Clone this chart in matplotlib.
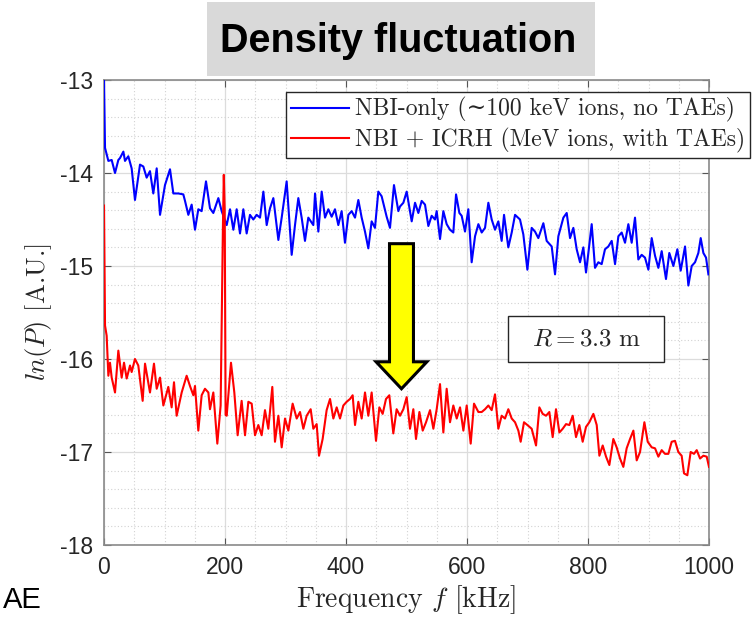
import matplotlib
matplotlib.use('Agg')
import matplotlib.pyplot as plt
from matplotlib.patches import Rectangle, Polygon
from matplotlib.ticker import MultipleLocator, FixedLocator
from matplotlib.font_manager import FontProperties

plt.rcParams['mathtext.fontset'] = 'cm'
plt.rcParams['axes.unicode_minus'] = False

# ---------------- data ----------------
blue_freq = [0, 1.7, 7.2, 12.7, 18.2, 23.7, 26.4, 32.0, 34.7, 40.2, 45.7, 51.2, 59.5, 65.0, 70.5,
             76.0, 81.5, 87.1, 92.6, 100.8, 109.1, 114.6, 122.9, 131.1, 133.9, 139.4, 144.9,
             150.4, 155.9, 161.4, 168.6, 175.2, 180.7, 189.0, 194.5, 202.8, 208.3, 213.8, 219.3,
             224.8, 230.3, 235.8, 241.3, 246.8, 252.3, 257.9, 263.4, 268.9, 274.4, 279.9, 288.2,
             293.7, 301.9, 310.2, 315.7, 321.2, 326.7, 332.2, 337.7, 346.0, 348.8, 354.3, 359.8,
             365.3, 370.8, 376.3, 381.8, 387.3, 392.8, 398.3, 403.9, 409.4, 414.9, 420.4, 425.9,
             431.4, 436.9, 442.4, 447.9, 453.4, 458.9, 467.2, 472.7, 479.3, 486.5,
             489.3, 494.8, 500.3, 508.6, 514.1, 519.6, 525.1, 530.6, 536.1, 541.6, 547.1, 549.9,
             555.4, 560.9, 566.4, 571.9, 577.4, 581.9, 587.4, 591.2, 596.7, 602.2, 607.7, 613.3,
             618.8, 624.3, 629.8, 635.3, 640.8, 646.3, 651.8, 657.3, 661.2, 668.3, 673.9, 679.4,
             687.6, 693.1, 699.8, 706.9, 712.4, 717.9, 726.2, 731.7, 737.2, 740.0, 745.5, 751.0,
             759.3, 764.8, 770.3, 775.8, 781.3, 786.8, 792.3, 796.7, 800.6, 806.1, 811.6, 817.1,
             822.6, 828.1, 833.6, 839.2, 844.7, 850.2, 855.7, 861.2, 866.7, 872.2, 877.7, 883.2,
             888.7, 894.2, 899.8, 905.3, 910.8, 916.3, 921.8, 928.9, 934.4, 941.1, 947.7, 953.2,
             960.4, 965.9, 971.4, 976.9, 982.4, 986.3, 990.7, 995.1, 999.0]
blue_val = [-13.0, -13.73, -13.87, -13.86, -14.00, -13.86, -13.84, -13.77, -13.87, -13.82, -13.95,
            -14.29, -13.91, -13.93, -14.05, -13.98, -14.22, -13.95, -14.45, -14.13, -13.96, -14.22,
            -14.22, -14.23, -14.30, -14.45, -14.34, -14.61, -14.39, -14.41, -14.09, -14.38, -14.43,
            -14.27, -14.41, -14.56, -14.39, -14.61, -14.39, -14.65, -14.39, -14.65, -14.45, -14.50,
            -14.45, -14.48, -14.20, -14.56, -14.38, -14.27, -14.72, -14.48, -14.09, -14.88, -14.56,
            -14.27, -14.48, -14.73, -14.48, -14.56, -14.22, -14.63, -14.20, -14.48, -14.39, -14.47,
            -14.39, -14.56, -14.41, -14.75, -14.45, -14.41, -14.48, -14.29, -14.48, -14.63, -14.81,
            -14.52, -14.59, -14.20, -14.25, -14.47, -14.59, -14.13, -14.41,
            -14.36, -14.32, -14.20, -14.52, -14.32, -14.43, -14.30, -14.34, -14.57, -14.46, -14.50,
            -14.41, -14.71, -14.41, -14.55, -14.61, -14.64, -14.23, -14.43, -14.46, -14.63, -14.39,
            -14.96, -14.68, -14.55, -14.64, -14.59, -14.32, -14.50, -14.61, -14.52, -14.73, -14.45,
            -14.80, -14.64, -14.45, -14.50, -14.66, -15.04, -14.59, -14.63, -14.70, -14.54, -14.73,
            -14.77, -14.79, -15.09, -14.68, -14.48, -14.43, -14.70, -14.59, -14.82, -14.96, -14.80,
            -15.07, -14.86, -14.55, -15.02, -14.96, -14.98, -14.82, -14.79, -14.73, -14.98, -14.68,
            -14.64, -14.75, -14.55, -14.75, -14.48, -14.93, -14.88, -14.91, -15.04, -14.70, -14.89,
            -15.02, -14.84, -15.14, -14.86, -15.00, -14.82, -15.05, -14.79, -15.21, -15.00, -14.96,
            -14.86, -14.70, -14.86, -14.91, -15.09]

red_freq = [0, 1.7, 4.4, 7.2, 9.9, 12.7, 18.2, 23.7, 29.2, 33.1, 37.5, 43.0, 45.7, 51.2, 56.7,
            63.9, 67.8, 76.0, 82.6, 87.1, 92.6, 98.1, 106.3, 111.8, 115.7, 120.1, 128.4, 136.6,
            142.1, 147.7, 150.4, 155.9, 161.4, 166.9, 172.5, 175.2, 180.7, 187.3, 192.8, 196.5,
            198.0, 199.5, 201.0, 202.8, 209.9, 215.4, 220.9, 227.5, 233.1, 238.6, 244.1, 249.6,
            255.1, 260.6, 266.1, 271.6, 278.2, 282.6, 288.2, 293.7, 299.2, 304.7, 311.8, 318.5,
            324.0, 329.5, 335.0, 341.6, 346.0, 351.5, 355.4, 361.4, 368.0, 373.6, 379.1, 384.6,
            390.1, 395.6, 401.1, 406.6, 411.0, 414.9, 420.4, 425.9, 431.4, 436.9, 442.4, 449.6,
            455.1, 460.6, 466.1, 471.6, 478.2, 483.7,
            489.3, 494.8, 500.3, 505.8, 511.3, 515.7, 521.3, 526.8, 532.3, 538.9, 544.4, 549.9,
            555.4, 560.9, 566.4, 571.9, 577.4, 583.0, 588.5, 594.0, 599.5, 606.1, 611.6, 618.8,
            624.3, 629.8, 635.3, 640.8, 646.3, 651.8, 657.3, 662.8, 668.3, 673.9, 679.4, 684.9,
            688.7, 694.2, 699.8, 706.9, 714.1, 719.6, 725.1, 730.6, 736.1, 741.6, 747.1, 752.7,
            758.2, 763.7, 769.2, 774.7, 780.2, 785.7, 791.2, 796.7, 802.2, 808.9, 814.4, 818.8,
            824.3, 829.8, 835.3, 841.9, 847.4, 852.9, 858.4, 863.9, 869.5, 875.0, 880.5, 886.0,
            893.2, 898.7, 905.3, 910.8, 916.3, 921.8, 927.3, 932.8, 938.3, 943.8, 949.3, 954.8,
            958.7, 964.2, 969.7, 975.2, 979.7, 985.2, 990.7, 996.2, 1000.0]
red_val = [-14.35, -15.64, -15.75, -16.18, -16.04, -16.20, -16.36, -15.91, -16.20, -16.04, -16.21,
           -16.07, -16.14, -16.00, -16.07, -16.45, -16.05, -16.36, -16.05, -16.32, -16.20, -16.50,
           -16.30, -16.52, -16.25, -16.61, -16.36, -16.18, -16.29, -16.39, -16.29, -16.77, -16.39,
           -16.32, -16.36, -16.54, -16.36, -16.91, -16.50, -14.60, -14.02, -14.40, -16.60, -16.61,
           -16.04, -16.36, -16.82, -16.45, -16.82, -16.46, -16.48, -16.82, -16.71, -16.82, -16.55,
           -16.75, -16.30, -16.89, -16.61, -16.95, -16.64, -16.77, -16.48, -16.64, -16.57, -16.75,
           -16.61, -16.54, -16.75, -16.70, -17.04, -16.86, -16.55, -16.43, -16.64, -16.52, -16.64,
           -16.50, -16.46, -16.43, -16.39, -16.71, -16.46, -16.64, -16.36, -16.61, -16.36, -16.88,
           -16.52, -16.59, -16.43, -16.39, -16.80, -16.54,
           -16.61, -16.54, -16.41, -16.75, -16.54, -16.86, -16.57, -16.77, -16.68, -16.55, -16.75,
           -16.54, -16.27, -16.79, -16.32, -16.68, -16.50, -16.64, -16.52, -16.77, -16.50, -16.91,
           -16.48, -16.57, -16.57, -16.54, -16.50, -16.55, -16.38, -16.75, -16.61, -16.64, -16.54,
           -16.64, -16.68, -16.77, -16.89, -16.68, -16.71, -16.75, -16.93, -16.52, -16.59, -16.61,
           -16.57, -16.84, -16.54, -16.79, -16.75, -16.70, -16.71, -16.61, -16.84, -16.71, -16.89,
           -16.73, -16.68, -16.59, -16.71, -17.04, -16.93, -17.05, -17.14, -16.86, -16.95, -17.07,
           -17.16, -16.96, -16.86, -16.77, -17.09, -17.00, -16.68, -16.89, -16.95, -16.96, -17.05,
           -16.98, -17.02, -17.02, -16.89, -16.88, -17.00, -17.04, -17.23, -17.25, -17.00, -17.02,
           -16.98, -17.07, -17.04, -17.05, -17.16]

x_ticks = [0, 200, 400, 600, 800, 1000]
y_ticks = [-18, -17, -16, -15, -14, -13]
series_labels = ['NBI-only (\u223c100 keV ions, no TAEs)',
                 'NBI + ICRH (MeV ions, with TAEs)']
title_text = 'Density fluctuation'
box_text = r'$R = 3.3\ \mathrm{m}$'
x_label = r'Frequency $f$ [kHz]'
y_label = r'$ln(P)$ [A.U.]'
corner_text = 'AE'

# ---------------- figure ----------------
W, H = 752, 617
fig = plt.figure(figsize=(W / 100, H / 100), dpi=100)
ax = fig.add_axes([104 / W, 1 - 545 / H, 605 / W, 465 / H])

ax.plot(blue_freq, blue_val, color='#0000ff', lw=1.5, label=series_labels[0], zorder=3)
ax.plot(red_freq, red_val, color='#ff0000', lw=1.5, label=series_labels[1], zorder=3)

ax.set_xlim(0, 1000)
ax.set_ylim(-18, -13)
ax.xaxis.set_major_locator(FixedLocator(x_ticks))
ax.yaxis.set_major_locator(FixedLocator(y_ticks))
ax.xaxis.set_minor_locator(MultipleLocator(50))
ax.yaxis.set_minor_locator(MultipleLocator(0.2))
ax.set_xticklabels([str(v) for v in x_ticks])
ax.set_yticklabels([str(v) for v in y_ticks])

ax.set_axisbelow(True)
ax.grid(which='major', color='#dcdcdc', lw=0.9, ls='-')
ax.grid(which='minor', color='#d2d2d2', lw=0.8, ls=(0, (1, 2)))
ax.tick_params(which='major', direction='in', length=5, width=0.8, color='#555555',
               top=True, right=True, labelsize=16.5, labelcolor='#262626', pad=8)
ax.tick_params(which='minor', length=0)
for lab in ax.get_xticklabels() + ax.get_yticklabels():
    lab.set_family('Liberation Sans')
for s in ax.spines.values():
    s.set_color('#8a8a8a')
    s.set_linewidth(1.2)

ax.set_xlabel(x_label, family='cmr10', fontsize=20, color='#262626', va='top')
ax.xaxis.set_label_coords(0.5, -0.083)
ax.set_ylabel(y_label, family='cmr10', fontsize=19, color='#262626')
ax.yaxis.set_label_coords(-0.083, 0.5)

leg = ax.legend(loc='upper right', bbox_to_anchor=(1.068, 0.974), borderaxespad=0,
                prop=FontProperties(family=['cmr10', 'DejaVu Serif'], size=17),
                fancybox=False, framealpha=1, edgecolor='#262626', handlelength=2.45,
                handletextpad=0.25, borderpad=0.22, labelspacing=0.22)
leg.get_frame().set_linewidth(1.0)
for t in leg.get_texts():
    t.set_color('#262626')
leg.set_zorder(5)

# yellow arrow
cx, hs, hh = 491.7, 19.8, 42.0
y_top, y_base, y_tip = -14.76, -16.03, -16.32
arrow = Polygon([(cx - hs, y_top), (cx + hs, y_top), (cx + hs, y_base), (cx + hh, y_base),
                 (cx, y_tip), (cx - hh, y_base), (cx - hs, y_base)], closed=True,
                facecolor='#ffff00', edgecolor='black', lw=2.2, joinstyle='miter', zorder=6)
ax.add_patch(arrow)

# R box
ax.add_patch(Rectangle((0.668, 0.3935), 0.258, 0.099, transform=ax.transAxes,
                       facecolor='white', edgecolor='#262626', lw=1.0, zorder=6))
ax.text(0.797, 0.443, box_text, transform=ax.transAxes, ha='center', va='center',
        fontsize=18, color='#262626', family='cmr10', zorder=7)

# title box
fig.patches.append(Rectangle((207 / W, 1 - 76 / H), 388 / W, 74 / H, transform=fig.transFigure,
                             facecolor='#d9d9d9', edgecolor='none', zorder=0))
fig.text(398 / W, 1 - 41 / H, title_text, ha='center', va='center', fontsize=28.5,
         fontweight='bold', family='Liberation Sans', color='black')

fig.text(3 / W, 3 / H, corner_text, ha='left', va='bottom', fontsize=21,
         family='Liberation Sans', color='black')

fig.savefig('out.png', dpi=100)
